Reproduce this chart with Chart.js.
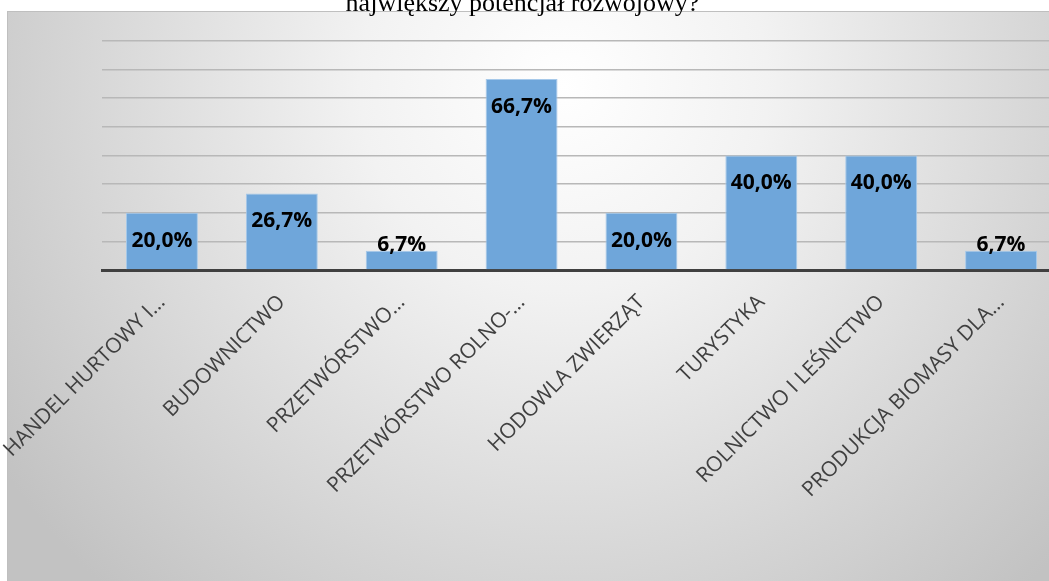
<!DOCTYPE html>
<html>
<head>
<meta charset="utf-8">
<script src="https://cdn.jsdelivr.net/npm/chart.js@4/dist/chart.umd.min.js"></script>
<style>
    html,body{
        margin:0;
        padding:0;
        background:#ffffff;
        overflow:hidden;
        width:1049px;
        height:581px;
    }
    #wrap{
        position:absolute;
        left:-16px;
        top:-14px;
        width:1096px;
        height:595px;
    }
</style>
</head>
<body>
<div id="wrap"><canvas id="chart"></canvas></div>
<script>

// ======================================
// Data
// ======================================

const categories = [
    "HANDEL HURTOWY I…",
    "BUDOWNICTWO",
    "PRZETWÓRSTWO…",
    "PRZETWÓRSTWO ROLNO-…",
    "HODOWLA ZWIERZĄT",
    "TURYSTYKA",
    "ROLNICTWO I LEŚNICTWO",
    "PRODUKCJA BIOMASY DLA…"
];

const percentValues = [20.0, 26.7, 6.7, 66.7, 20.0, 40.0, 40.0, 6.7];

const titleText = "największy potencjał rozwojowy?";

// ======================================
// Panel background (gradient)
// ======================================

const panelPlugin = {

    id:"panel",

    beforeDraw(chart){

        const ctx = chart.ctx;

        // canvas is shifted 16px left / 14px up
        const x0 = 23, y0 = 25;
        const w = chart.width - x0, h = chart.height - y0;

        const g = ctx.createRadialGradient(580, 100, 0, 580, 100, 680);
        g.addColorStop(0, "#ffffff");
        g.addColorStop(0.3, "#f2f2f2");
        g.addColorStop(1, "#c2c2c2");

        ctx.save();
        ctx.fillStyle = g;
        ctx.fillRect(x0, y0, w, h);
        ctx.strokeStyle = "#bfbfbf";
        ctx.lineWidth = 1;
        ctx.strokeRect(x0 + 0.5, y0 + 0.5, w, h + 2);
        ctx.restore();

    }

};

// ======================================
// Value labels on bars
// ======================================

const valueLabels = {

    id:"valueLabels",

    afterDatasetsDraw(chart){

        const ctx = chart.ctx;
        const meta = chart.getDatasetMeta(0);

        ctx.save();
        ctx.font = "bold 21px 'Open Sans'";
        ctx.fillStyle = "#000000";
        ctx.textAlign = "center";
        ctx.textBaseline = "middle";

        meta.data.forEach((bar, i) => {

            const v = percentValues[i];
            const txt = v.toFixed(1).replace(".", ",") + "%";
            const inside = (bar.base - bar.y) > 40;
            const y = inside ? bar.y + 28 : bar.y - 6;

            ctx.fillText(txt, bar.x, y);

        });

        ctx.restore();

    }

};

// ======================================
// Chart
// ======================================

new Chart(document.getElementById("chart"), {

    type:"bar",

    data:{

        labels:categories,

        datasets:[{

            data:percentValues,

            backgroundColor:"#6fa6da",

            borderColor:"#a6c9ea",

            borderWidth:1,

            barPercentage:0.6,

            categoryPercentage:1.0

        }]

    },

    options:{

        responsive:true,

        maintainAspectRatio:false,

        animation:false,

        layout:{
            padding:{ left:0, right:19, top:0, bottom:0 }
        },

        plugins:{

            legend:{ display:false },

            tooltip:{ enabled:false },

            title:{
                display:true,
                text:titleText,
                color:"#000000",
                font:{ family:"'Liberation Serif'", size:26, weight:"normal", lineHeight:1.2 },
                padding:{ top:3, bottom:20.6 }
            }

        },

        scales:{

            x:{
                grid:{ display:false, drawTicks:false },
                border:{ display:true, color:"#404040", width:3 },
                ticks:{
                    color:"#404040",
                    font:{ family:"'Open Sans'", size:21 },
                    maxRotation:45,
                    minRotation:45,
                    padding:20,
                    autoSkip:false
                },
                afterFit(axis){
                    axis.height = 311;
                    axis.paddingLeft = 0;
                    axis.paddingRight = 0;
                }
            },

            y:{
                min:0,
                max:80,
                ticks:{ display:false, stepSize:10 },
                grid:{ color:"#b8b8b8", lineWidth:1.5, drawTicks:false },
                border:{ display:false },
                afterFit(axis){ axis.width = 118; }
            }

        }

    },

    plugins:[panelPlugin, valueLabels]

});

</script>
</body>
</html>
